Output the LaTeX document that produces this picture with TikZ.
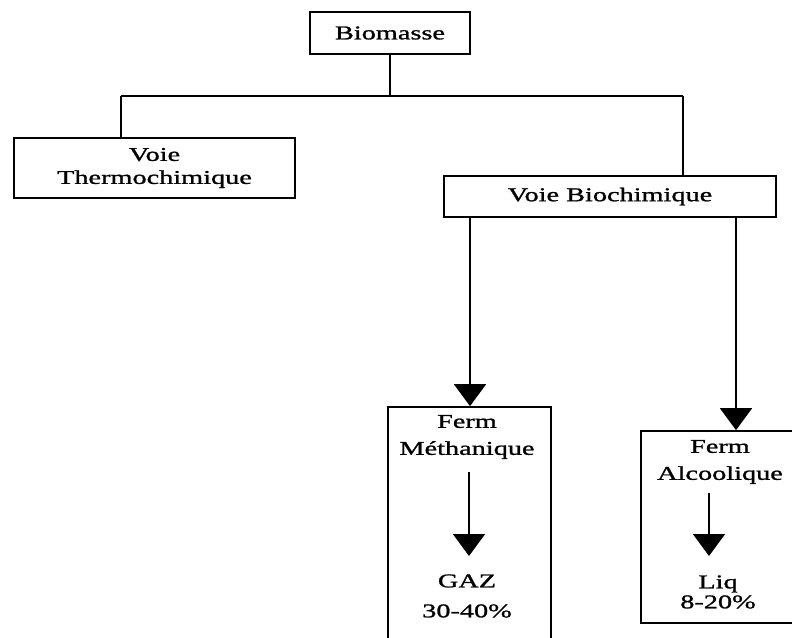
\documentclass[tikz,border=0pt]{standalone}
\usepackage{fontspec}
\setmainfont{Liberation Serif}[FakeStretch=1.45,FakeBold=1.2]
\usetikzlibrary{arrows.meta}
\begin{document}
\begin{tikzpicture}[x=1pt,y=-1pt, line width=1.7pt,
  box/.style={draw, rectangle, inner sep=0pt},
  lbl/.style={align=center, inner sep=0pt},
  arr/.style={-{Triangle[width=32pt,length=22pt]}}]
\useasboundingbox (0,0) rectangle (792,637);
\fill[white] (0,0) rectangle (792,637);
\clip (0,0) rectangle (792,637);
% boxes
\node[box, minimum width=160pt, minimum height=42pt, font=\fontsize{19.5}{23}\selectfont] (biom) at (390,33) {Biomasse};
\node[box, minimum width=281pt, minimum height=60pt, align=center, font=\fontsize{19.5}{23}\selectfont] (thermo) at (154.5,168) {Voie\\Thermochimique};
\node[box, minimum width=332pt, minimum height=41pt, font=\fontsize{19.5}{23}\selectfont] (voieb) at (610,196.5) {Voie Biochimique};
\node[box, minimum width=163pt, minimum height=253pt] (meth) at (469.5,533.5) {};
\node[box, minimum width=169pt, minimum height=192pt] (alc) at (725.5,527) {};
% labels inside
\node[lbl, font=\fontsize{19.5}{27}\selectfont] (fm) at (467,437) {Ferm\\Méthanique};
\node[lbl, font=\fontsize{19.5}{30}\selectfont] (gaz) at (467,596) {GAZ\\30-40\%};
\node[lbl, font=\fontsize{19.5}{27}\selectfont] (fa) at (720,462) {Ferm\\Alcoolique};
\node[lbl, font=\fontsize{19.5}{20}\selectfont] (liq) at (718,592) {Liq\\8-20\%};
% tree connectors
\coordinate (jc) at (390,96);
\coordinate (jl) at (121,96);
\coordinate (jr) at (683,96);
\draw (biom.south) -- (jc);
\draw (jl) -- (jr);
\draw (jl) -- (jl |- thermo.north);
\draw (jr) -- (jr |- voieb.north);
% arrows from Voie Biochimique
\coordinate (bl) at (470,217);
\coordinate (br) at (736,217);
\draw[arr] (bl) -- (bl |- meth.north);
\draw[arr] (br) -- (br |- alc.north);
% inner arrows
\coordinate (m1) at (469,472);
\coordinate (m2) at (469,556);
\coordinate (a1) at (709,493);
\coordinate (a2) at (709,556);
\draw[arr] (m1) -- (m2);
\draw[arr] (a1) -- (a2);
\end{tikzpicture}
\end{document}
